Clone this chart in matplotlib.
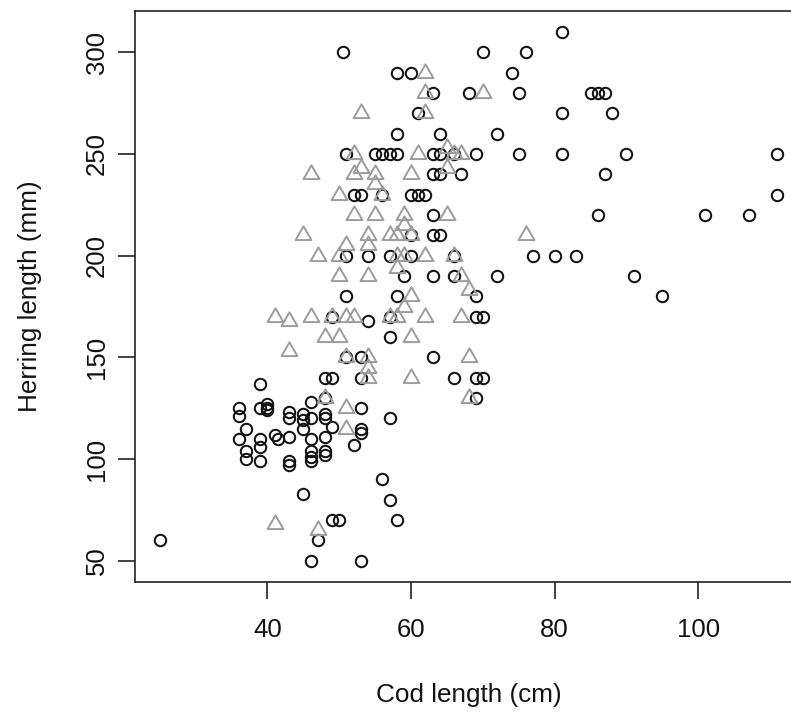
import matplotlib
matplotlib.use("Agg")
import matplotlib.pyplot as plt
from matplotlib.path import Path
import numpy as np

plt.rcParams['font.family'] = ['Liberation Sans', 'DejaVu Sans']

# Circles (black, open)
circle_cod = [50.5, 58, 60, 63, 61, 58, 64,
              51, 55, 56, 57, 58, 63, 64, 66, 69, 75, 81, 90, 111,
              70, 76, 81, 74, 68, 75, 85, 86, 87, 81, 88, 72,
              63, 64, 67, 87,
              52, 53, 56, 60, 61, 62, 111,
              63, 86, 101, 107,
              60, 63, 64,
              51, 54, 57, 60, 66, 77, 80, 83,
              59, 63, 66, 72, 91,
              51, 58, 69, 95,
              49, 54, 57, 69, 70,
              57,
              51, 53, 63,
              48, 49, 53, 66, 69, 70,
              39,
              48, 69, 46,
              36, 36, 39, 40, 40, 40,
              43, 43, 45, 45, 45, 46, 48, 48, 53, 57, 49,
              53, 53, 52, 37, 36, 39, 39, 41, 41.5, 43,
              37, 37, 39, 43, 43, 46, 46, 46, 46, 48, 48, 48,
              56, 45, 57, 49, 50, 58, 47, 25, 46, 53]
circle_herring = [300, 290, 290, 280, 270, 260, 260,
                  250, 250, 250, 250, 250, 250, 250, 250, 250, 250, 250, 250, 250,
                  300, 300, 310, 290, 280, 280, 280, 280, 280, 270, 270, 260,
                  240, 240, 240, 240,
                  230, 230, 230, 230, 230, 230, 230,
                  220, 220, 220, 220,
                  210, 210, 210,
                  200, 200, 200, 200, 200, 200, 200, 200,
                  190, 190, 190, 190, 190,
                  180, 180, 180, 180,
                  170, 168, 170, 170, 170,
                  160,
                  150, 150, 150,
                  140, 140, 140, 140, 140, 140,
                  137,
                  130, 130, 128,
                  125, 121, 125, 127, 125, 124,
                  123, 120, 122, 119, 115, 120, 122, 120, 125, 120, 116,
                  115, 113, 107, 115, 110, 110, 106, 112, 110, 111,
                  104, 100, 99, 99, 97, 110, 104, 101, 99, 111, 104, 102,
                  90, 83, 80, 70, 70, 70, 60, 60, 50, 50]

# Triangles (grey, open)
tri_cod = [62, 62, 53, 62, 70,
           52, 61, 65, 66, 67, 65,
           46, 52, 53, 55, 55, 60,
           50, 56,
           52, 55, 59, 65,
           45, 54, 57, 58, 59, 60, 76,
           51, 54,
           47, 50, 58, 59, 62, 66,
           50, 54, 58, 67,
           60, 68, 59,
           41, 43, 46, 49, 51, 52, 57, 58, 62, 67,
           48, 50, 60,
           43, 51, 54, 68, 54, 54, 60,
           48, 68,
           51, 51,
           47, 41]
tri_herring = [290, 280, 270, 270, 280,
               250, 250, 253, 250, 250, 243,
               240, 240, 243, 240, 235, 240,
               230, 230,
               220, 220, 220, 220,
               210, 210, 210, 210, 215, 210, 210,
               205, 205,
               200, 200, 200, 200, 200, 200,
               190, 190, 194, 190,
               180, 183, 175,
               170, 168, 170, 170, 170, 170, 170, 170, 170, 170,
               160, 160, 160,
               153, 150, 150, 150, 145, 140, 140,
               130, 130,
               125, 115,
               65, 68]

x_ticks = [40, 60, 80, 100]
y_ticks = [50, 100, 150, 200, 250, 300]
x_label = "Cod length (cm)"
y_label = "Herring length (mm)"

W, H = 791, 713
fig = plt.figure(figsize=(W / 100, H / 100), dpi=100)
left, right, top, bottom = 135, 802, 10.7, 582
ax = fig.add_axes([left / W, (H - bottom) / H, (right - left) / W, (bottom - top) / H])

ax.plot(circle_cod, circle_herring, linestyle='none', marker='o', ms=8.2,
        mfc='none', mec='#111111', mew=1.45, clip_on=False)
tri_path = Path([(0, 1), (-0.8660254, -0.5), (0.8660254, -0.5), (0, 1)],
                [Path.MOVETO, Path.LINETO, Path.LINETO, Path.CLOSEPOLY])
ax.plot(tri_cod, tri_herring, linestyle='none', marker=tri_path, ms=13.2,
        mfc='none', mec='#9c9c9c', mew=1.4, clip_on=False)

xmin, xmax = 25, 111
ymin, ymax = 50, 310
ax.set_xlim(xmin - 0.04 * (xmax - xmin), xmax + 0.04 * (xmax - xmin))
ax.set_ylim(ymin - 0.04 * (ymax - ymin), ymax + 0.04 * (ymax - ymin))

ax.set_xticks(x_ticks)
ax.set_xticklabels([str(t) for t in x_ticks])
ax.set_yticks(y_ticks)
ax.set_yticklabels([str(t) for t in y_ticks], rotation=90, va='center')

for s in ax.spines.values():
    s.set_linewidth(1.2)
    s.set_color('#222222')
ax.tick_params(axis='both', length=12, width=1.2, color='#222222',
               labelsize=18.5, labelcolor='#111111')
ax.tick_params(axis='x', pad=14)
ax.tick_params(axis='y', pad=7)

ax.set_xlabel(x_label, fontsize=18.8, color='#111111')
ax.set_ylabel(y_label, fontsize=18.8, color='#111111')
ax.xaxis.set_label_coords(0.5, (bottom - 695) / (bottom - top))
ax.xaxis.label.set_va('center')
ax.yaxis.set_label_coords((30 - left) / (right - left), 0.5)
ax.yaxis.label.set_va('center')

fig.savefig("out.png", dpi=100)
